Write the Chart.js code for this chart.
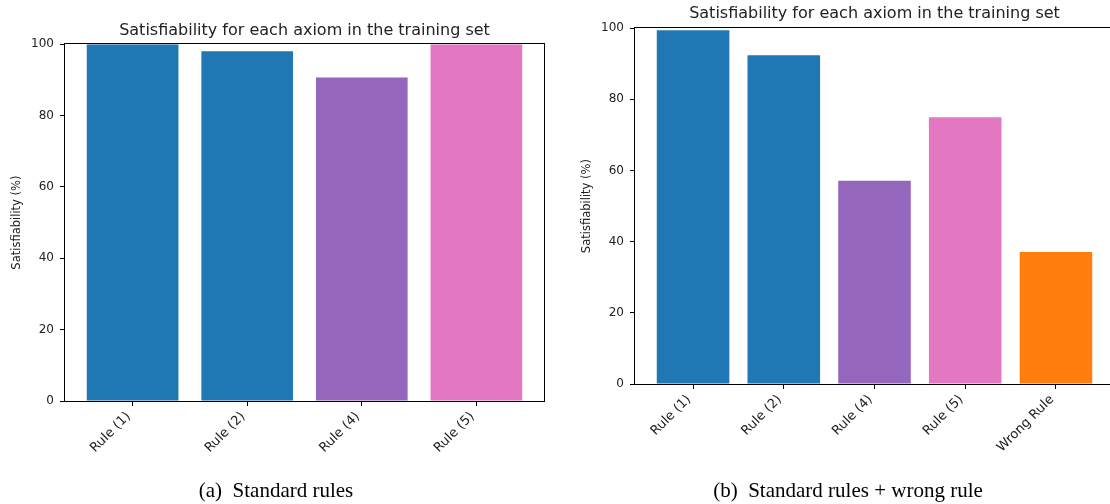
<!DOCTYPE html>
<html>
<head>
<meta charset="utf-8">
<script src="https://cdn.jsdelivr.net/npm/chart.js@4.4.1/dist/chart.umd.min.js"></script>
<style>
  html, body { margin: 0; padding: 0; background: #fff; overflow: hidden; width: 1110px; height: 504px; }
  .box { position: absolute; }
  .caption { position: absolute; font-family: "Liberation Serif", serif; font-size: 21px; line-height: 22px; color: #000; text-align: center; white-space: pre; }
</style>
</head>
<body>
<div class="box" style="left:0;top:0;width:560px;height:481px"><canvas id="chartA"></canvas></div>
<div class="box" style="left:570px;top:0;width:544px;height:464px"><canvas id="chartB"></canvas></div>
<div class="caption" style="left:126px;top:479px;width:300px">(a)  Standard rules</div>
<div class="caption" style="left:673px;top:479px;width:350px">(b)  Standard rules + wrong rule</div>
<script>
// (a) reglas estándar
const rulesA = ['Rule (1)', 'Rule (2)', 'Rule (4)', 'Rule (5)'];
const satA = [100, 98.0, 90.7, 100];
const colorsA = ['#1f77b4', '#1f77b4', '#9467bd', '#e377c2'];

// (b) reglas estándar + regla incorrecta
const rulesB = ['Rule (1)', 'Rule (2)', 'Rule (4)', 'Rule (5)', 'Wrong Rule'];
const satB = [99.4, 92.4, 57.1, 75.0, 37.1];
const colorsB = ['#1f77b4', '#1f77b4', '#9467bd', '#e377c2', '#ff7f0e'];

const yTicks = { min: 0, max: 100, step: 20 };
const titleText = 'Satisfiability for each axiom in the training set';
const yTitle = 'Satisfiability (%)';

const FONT = 'DejaVu Sans';
const INK = '#222';

// marco negro alrededor del área del gráfico (spines de matplotlib)
const frame = {
    id: 'frame',
    afterDatasetsDraw(chart) {
        const { ctx, chartArea: a } = chart;
        ctx.save();
        ctx.strokeStyle = '#000';
        ctx.lineWidth = 1;
        ctx.strokeRect(Math.round(a.left) - 0.5, Math.round(a.top) - 0.5,
            Math.round(a.right - a.left) + 1, Math.round(a.bottom - a.top) + 1);
        ctx.restore();
    }
};

function buildChart(id, labels, values, colors, titlePad, rightPad) {
    const n = labels.length;
    const pad = 0.05 * (n - 1 + 0.8);
    return new Chart(document.getElementById(id), {
        type: 'bar',
        data: {
            datasets: [{
                data: values.map((v, i) => ({ x: i, y: v })),
                backgroundColor: colors,
                borderWidth: 0,
                categoryPercentage: 1.0,
                barPercentage: 0.8
            }]
        },
        options: {
            responsive: true,
            maintainAspectRatio: false,
            animation: false,
            layout: { padding: { left: 0, right: rightPad, top: 0, bottom: 0 } },
            plugins: {
                legend: { display: false },
                tooltip: { enabled: false },
                title: {
                    display: true,
                    text: titleText,
                    fullSize: false,
                    color: INK,
                    font: { family: FONT, size: 16, weight: 'normal' },
                    padding: titlePad
                }
            },
            scales: {
                x: {
                    type: 'linear',
                    offset: false,
                    min: -0.4 - pad,
                    max: n - 1 + 0.4 + pad,
                    afterFit: s => { s.height = 80; },
                    border: { display: false },
                    grid: { offset: false, drawOnChartArea: false, drawTicks: true, tickLength: 5, color: '#000' },
                    ticks: {
                        stepSize: 1,
                        includeBounds: false,
                        autoSkip: false,
                        maxRotation: 45,
                        minRotation: 45,
                        padding: 3,
                        labelOffset: -4,
                        color: INK,
                        font: { family: FONT, size: 13 },
                        callback: v => labels[v] ?? ''
                    }
                },
                y: {
                    min: yTicks.min,
                    max: yTicks.max,
                    afterFit: s => { s.width = 65; },
                    border: { display: false },
                    grid: { drawOnChartArea: false, drawTicks: true, tickLength: 5, color: '#000' },
                    ticks: {
                        stepSize: yTicks.step,
                        padding: 6,
                        color: INK,
                        font: { family: FONT, size: 12 }
                    },
                    title: {
                        display: true,
                        text: yTitle,
                        color: INK,
                        font: { family: FONT, size: 11.5 },
                        padding: { top: 10, bottom: 0 }
                    }
                }
            }
        },
        plugins: [frame]
    });
}

buildChart('chartA', rulesA, satA, colorsA, { top: 21, bottom: 4 }, 16);
buildChart('chartB', rulesB, satB, colorsB, { top: 4, bottom: 5 }, 0);
</script>
</body>
</html>
